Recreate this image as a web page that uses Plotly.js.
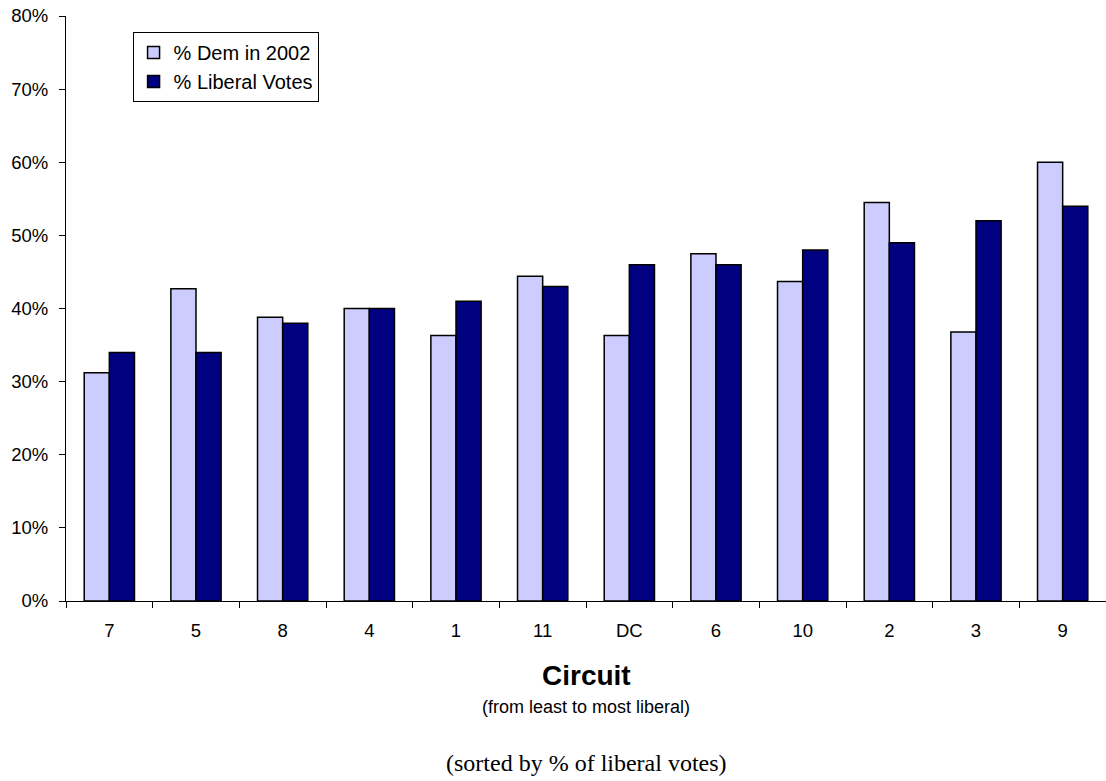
<!DOCTYPE html>
<html><head><meta charset="utf-8">
<script src="https://cdn.plot.ly/plotly-3.0.1.min.js"></script>
<style>html,body{margin:0;padding:0;background:#fff}#chart{width:1106px;height:781px}</style>
</head><body><div id="chart"></div>
<script>
var circuits = ["7","5","8","4","1","11","DC","6","10","2","3","9"];
var demPct2002 = [0.312,0.427,0.388,0.40,0.363,0.444,0.363,0.475,0.437,0.545,0.368,0.60];
var liberalPct = [0.34,0.34,0.38,0.40,0.41,0.43,0.46,0.46,0.48,0.49,0.52,0.54];
var yTickVals = [0,0.1,0.2,0.3,0.4,0.5,0.6,0.7,0.8];

var traces = [
  {type:"bar", name:"% Dem in 2002", x:circuits, y:demPct2002,
   marker:{color:"#CCCCFF", line:{color:"#000000", width:1.5}}},
  {type:"bar", name:"% Liberal Votes", x:circuits, y:liberalPct,
   marker:{color:"#000080", line:{color:"#000000", width:1.5}}}
];
var layout = {
  width:1106, height:781,
  margin:{l:66, r:0, t:16, b:180},
  paper_bgcolor:"#fff", plot_bgcolor:"#fff",
  font:{family:"Liberation Sans, Arial, sans-serif", size:18.5, color:"#000"},
  barmode:"group", bargap:0.42, bargroupgap:0,
  showlegend:true,
  legend:{x:0.064, y:0.9726, xanchor:"left", yanchor:"top",
    bordercolor:"#000", borderwidth:1, bgcolor:"#fff",
    font:{size:20}, tracegroupgap:0, itemwidth:30},
  xaxis:{type:"category", showline:true, linecolor:"#000", linewidth:1,
    ticks:"outside", ticklen:6, tickcolor:"#000", tickson:"boundaries",
    showgrid:false, zeroline:false, ticklabelstandoff:13,
    tickfont:{size:18.5}, title:{text:""}},
  yaxis:{range:[0,0.8], tickvals:yTickVals, tickformat:".0%",
    showline:true, linecolor:"#000", linewidth:1,
    ticks:"outside", ticklen:6, tickcolor:"#000",
    showgrid:false, zeroline:false, ticklabelstandoff:7,
    tickfont:{size:18.5}},
  annotations:[
    {text:"<b>Circuit</b>", xref:"paper", yref:"paper", x:0.5, y:-0.1282, yanchor:"middle",
     showarrow:false, font:{size:28}},
    {text:"(from least to most liberal)", xref:"paper", yref:"paper", x:0.5, y:-0.1812, yanchor:"middle",
     showarrow:false, font:{size:18}},
    {text:"(sorted by % of liberal votes)", xref:"paper", yref:"paper", x:0.5, y:-0.2769, yanchor:"middle",
     showarrow:false, font:{size:24, family:"Liberation Serif, Times New Roman, serif"}}
  ]
};
Plotly.newPlot("chart", traces, layout, {displayModeBar:false, staticPlot:true});
</script></body></html>
